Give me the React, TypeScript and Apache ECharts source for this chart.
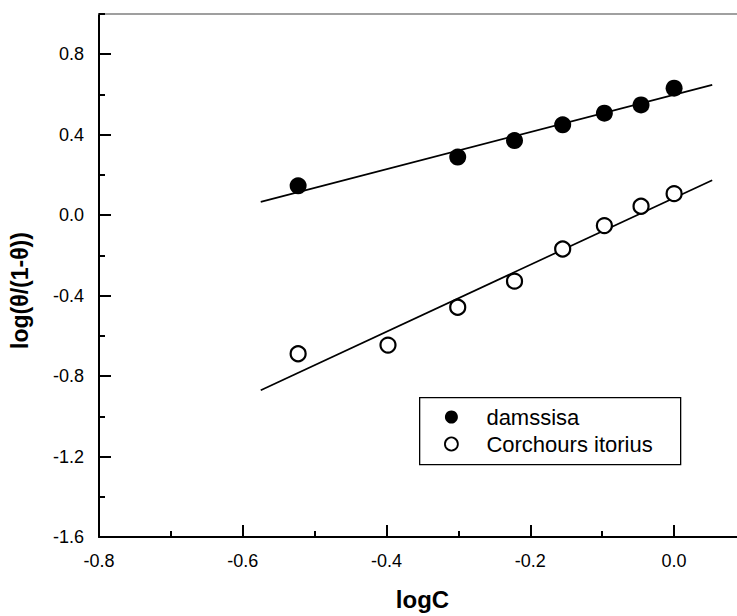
import React, { useEffect, useRef } from "react";
import * as echarts from "echarts";

// ---- data ----
const damssisaX = [-0.523, -0.301, -0.222, -0.155, -0.097, -0.046, 0.0];
const damssisaY = [0.146, 0.289, 0.371, 0.449, 0.507, 0.548, 0.631];
const corchorusX = [-0.523, -0.398, -0.301, -0.222, -0.155, -0.097, -0.046, 0.0];
const corchorusY = [-0.689, -0.646, -0.458, -0.328, -0.168, -0.052, 0.044, 0.107];
const fitX = [-0.575, 0.053];
const damssisaFitY = [0.066, 0.648];
const corchorusFitY = [-0.87, 0.174];
const xMajor = [-0.8, -0.6, -0.4, -0.2, 0.0];
const xMinor = [-0.7, -0.5, -0.3, -0.1];
const yMajor = [-1.6, -1.2, -0.8, -0.4, 0.0, 0.4, 0.8];
const yMinor = [-1.4, -1.0, -0.6, -0.2, 0.2, 0.6, 1.0];
const seriesNames = ["damssisa", "Corchours itorius"];

const FONT = "'Liberation Sans', Arial, Helvetica, sans-serif";

function zip(xs: number[], ys: number[]) {
  return xs.map((x, i) => [x, ys[i]]);
}

export default function App() {
  const ref = useRef<HTMLDivElement>(null);
  useEffect(() => {
    if (!ref.current) return;
    const chart = echarts.init(ref.current, null, { renderer: "svg" });
    const X_MIN = -0.8, X_MAX = 0.1, Y_MIN = -1.6, Y_MAX = 1.0;
    const fmt = (v: number) => (Math.abs(v) < 1e-9 ? "0.0" : v.toFixed(1));
    const option: any = {
      animation: false,
      backgroundColor: "#ffffff",
      textStyle: { fontFamily: FONT },
      grid: { left: 99, top: 14, width: 647, height: 524, containLabel: false },
      xAxis: [
        {
          type: "value", min: X_MIN, max: X_MAX, position: "bottom",
          axisLine: { show: true, onZero: false, lineStyle: { color: "#000", width: 2 } },
          axisTick: { show: true, inside: true, length: 12, customValues: xMajor, lineStyle: { color: "#000", width: 2 } },
          axisLabel: { show: true, customValues: xMajor, formatter: fmt, fontSize: 18, color: "#000", margin: 15, fontFamily: FONT },
          splitLine: { show: false },
          name: "logC", nameLocation: "middle", nameGap: 50,
          nameTextStyle: { fontSize: 24, fontWeight: "bold", color: "#000", fontFamily: FONT },
        },
        {
          type: "value", min: X_MIN, max: X_MAX, position: "bottom",
          axisLine: { show: false, onZero: false },
          axisTick: { show: true, inside: true, length: 6, customValues: xMinor, lineStyle: { color: "#000", width: 2 } },
          axisLabel: { show: false },
          splitLine: { show: false },
        },
        {
          type: "value", min: X_MIN, max: X_MAX, position: "top",
          axisLine: { show: true, onZero: false, lineStyle: { color: "#808080", width: 1.5 } },
          axisTick: { show: false },
          axisLabel: { show: false },
          splitLine: { show: false },
        },
      ],
      yAxis: [
        {
          type: "value", min: Y_MIN, max: Y_MAX, position: "left",
          axisLine: { show: true, onZero: false, lineStyle: { color: "#000", width: 2 } },
          axisTick: { show: true, inside: true, length: 12, customValues: yMajor, lineStyle: { color: "#000", width: 2 } },
          axisLabel: { show: true, customValues: yMajor, formatter: fmt, fontSize: 18, color: "#000", margin: 15, fontFamily: FONT },
          splitLine: { show: false },
          name: "log(θ/(1-θ))", nameLocation: "middle", nameGap: 68,
          nameTextStyle: { fontSize: 23, fontWeight: "bold", color: "#000", fontFamily: FONT, padding: [0, 30, 0, 0] },
        },
        {
          type: "value", min: Y_MIN, max: Y_MAX, position: "left",
          axisLine: { show: false, onZero: false },
          axisTick: { show: true, inside: true, length: 6, customValues: yMinor, lineStyle: { color: "#000", width: 2 } },
          axisLabel: { show: false },
          splitLine: { show: false },
        },
      ],
      legend: {
        data: [
          { name: seriesNames[0] },
          { name: seriesNames[1], itemStyle: { color: "#fff", borderColor: "#000", borderWidth: 1.8 } },
        ],
        orient: "vertical",
        left: 444, top: 406, padding: 0,
        itemWidth: 60, itemHeight: 13, itemGap: 5,
        textStyle: { fontSize: 22, color: "#000", fontFamily: FONT },
        selectedMode: false,
      },
      graphic: [
        {
          type: "rect", left: 419, top: 397, z: 0,
          shape: { width: 261, height: 67 },
          style: { fill: "#fff", stroke: "#000", lineWidth: 1.3 },
        },
      ],
      series: [
        {
          name: "damssisa-fit", type: "line", data: zip(fitX, damssisaFitY),
          symbol: "none", silent: true,
          lineStyle: { color: "#000", width: 1.7 }, z: 2,
        },
        {
          name: "corchorus-fit", type: "line", data: zip(fitX, corchorusFitY),
          symbol: "none", silent: true,
          lineStyle: { color: "#000", width: 1.7 }, z: 2,
        },
        {
          name: seriesNames[0], type: "scatter", data: zip(damssisaX, damssisaY),
          symbol: "circle", symbolSize: 17,
          itemStyle: { color: "#000", borderColor: "#000", borderWidth: 0, opacity: 1 }, z: 3,
        },
        {
          name: seriesNames[1], type: "scatter", data: zip(corchorusX, corchorusY),
          symbol: "circle", symbolSize: 15,
          itemStyle: { color: "#fff", borderColor: "#000", borderWidth: 2.2, opacity: 1 }, z: 3,
        },
      ],
    };
    chart.setOption(option);
    return () => chart.dispose();
  }, []);
  return (
    <div style={{ position: "absolute", left: 0, top: 0, width: 737, height: 616, overflow: "hidden" }}>
      <div ref={ref} style={{ position: "absolute", left: 0, top: 0, width: 747, height: 616 }} />
    </div>
  );
}
